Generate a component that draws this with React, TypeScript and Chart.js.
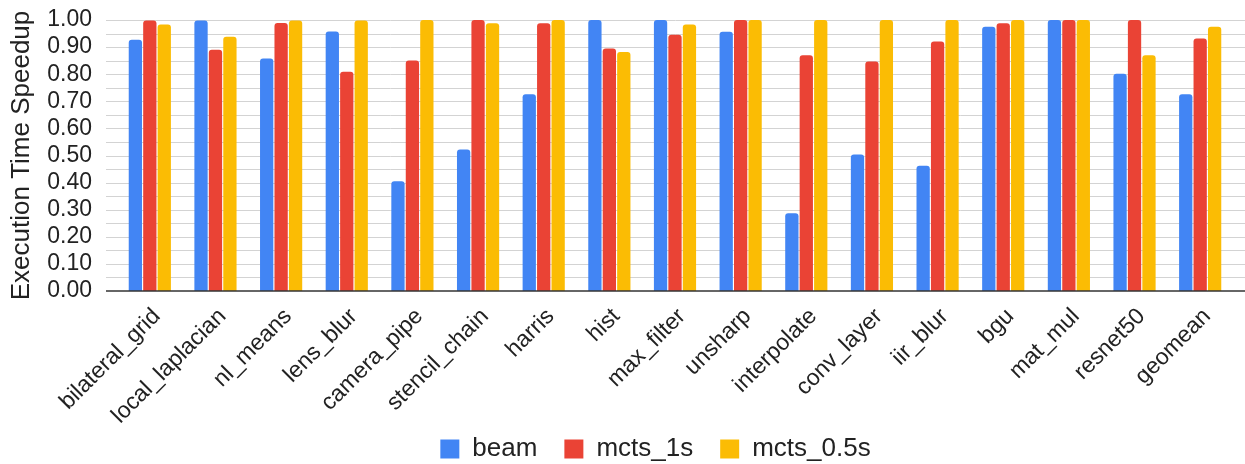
import React, { useEffect, useRef } from "react";
import { Chart, registerables } from "chart.js";
Chart.register(...registerables);

const categories = [
  "bilateral_grid", "local_laplacian", "nl_means", "lens_blur", "camera_pipe",
  "stencil_chain", "harris", "hist", "max_filter", "unsharp", "interpolate",
  "conv_layer", "iir_blur", "bgu", "mat_mul", "resnet50", "geomean",
];
const beam = [0.927, 0.998, 0.858, 0.958, 0.405, 0.522, 0.726, 1.0, 1.0, 0.957, 0.287, 0.504, 0.462, 0.975, 1.0, 0.802, 0.726];
const mcts1s = [0.998, 0.89, 0.989, 0.809, 0.851, 1.0, 0.988, 0.895, 0.946, 1.0, 0.87, 0.847, 0.921, 0.988, 1.0, 1.0, 0.932];
const mcts05s = [0.983, 0.938, 0.998, 0.998, 1.0, 0.988, 1.0, 0.882, 0.983, 1.0, 1.0, 1.0, 1.0, 1.0, 1.0, 0.87, 0.975];
const seriesNames = ["beam", "mcts_1s", "mcts_0.5s"];
const yMin = 0;
const yMax = 1.0;
const yStep = 0.1;
const gridValues = [0.05, 0.1, 0.15, 0.2, 0.25, 0.3, 0.35, 0.4, 0.45, 0.5, 0.55, 0.6, 0.65, 0.7, 0.75, 0.8, 0.85, 0.9, 0.95, 1.0];
const yTitle = "Execution Time Speedup";

const COLORS = ["#4285F4", "#EA4335", "#FBBC04"];
const FONT = "'Liberation Sans', Arial, sans-serif";
const GRID_LEFT = 106;
const LEGEND_SHIFT_X = 39;
const LEGEND_ITEM_CENTER_Y = 449;
const XLABEL_EXTRA = 40;

const gridPlugin = {
  id: "fullGrid",
  beforeDatasetsDraw(chart: any) {
    const ys = chart.scales.y;
    const ctx = chart.ctx;
    ctx.save();
    ctx.strokeStyle = "#d3d3d3";
    ctx.lineWidth = 1;
    for (const v of gridValues) {
      const py = Math.round(ys.getPixelForValue(v)) + 0.5;
      ctx.beginPath();
      ctx.moveTo(GRID_LEFT, py);
      ctx.lineTo(chart.width, py);
      ctx.stroke();
    }
    ctx.restore();
  },
  afterDatasetsDraw(chart: any) {
    const ys = chart.scales.y;
    const ctx = chart.ctx;
    ctx.save();
    ctx.strokeStyle = "#333333";
    ctx.lineWidth = 1.5;
    const py = ys.getPixelForValue(0);
    ctx.beginPath();
    ctx.moveTo(GRID_LEFT, py);
    ctx.lineTo(chart.width, py);
    ctx.stroke();
    ctx.restore();
  },
  afterLayout(chart: any) {
    const xs = chart.scales.x;
    if (xs) xs.bottom += XLABEL_EXTRA;
    const lg = chart.legend;
    if (lg) {
      lg.left += LEGEND_SHIFT_X;
      lg.right += LEGEND_SHIFT_X;
      const pad = lg.options.labels.padding;
      const fs = lg.options.labels.font.size;
      const dy = LEGEND_ITEM_CENTER_Y - (lg.top + pad + fs / 2);
      lg.top += dy;
      lg.bottom += dy;
    }
  },
};

export default function App() {
  const ref = useRef<HTMLCanvasElement>(null);
  useEffect(() => {
    if (!ref.current) return;
    const data = [beam, mcts1s, mcts05s];
    const chart = new Chart(ref.current, {
      type: "bar",
      data: {
        labels: categories,
        datasets: seriesNames.map((name, i) => ({
          label: name,
          data: data[i],
          backgroundColor: COLORS[i],
          borderWidth: 0,
          borderRadius: { topLeft: 3, topRight: 3, bottomLeft: 0, bottomRight: 0 },
          borderSkipped: false,
          barPercentage: 0.92,
          categoryPercentage: 0.66,
        })),
      },
      options: {
        responsive: false,
        animation: false,
        layout: { padding: { top: 20, bottom: 0, left: 0, right: 12 } },
        plugins: {
          tooltip: { enabled: false },
          legend: {
            position: "bottom",
            labels: {
              boxWidth: 19,
              boxHeight: 19,
              padding: 27,
              color: "#222",
              font: { family: FONT, size: 26 },
            },
          },
        },
        scales: {
          x: {
            grid: { display: false },
            border: { display: false },
            ticks: {
              color: "#222",
              font: { family: FONT, size: 23 },
              maxRotation: 45,
              minRotation: 45,
              autoSkip: false,
              padding: 4,
              labelOffset: 7,
            },
            afterFit: (s: any) => { s.height = 110; s.paddingLeft = 0; s.paddingRight = 0; },
          },
          y: {
            min: yMin,
            max: yMax,
            grid: { display: false, drawTicks: false },
            border: { display: false },
            ticks: {
              stepSize: yStep,
              autoSkip: false,
              color: "#222",
              font: { family: FONT, size: 23 },
              padding: 25,
              callback: (v: any) => Number(v).toFixed(2),
            },
            title: {
              display: true,
              text: yTitle,
              color: "#222",
              font: { family: FONT, size: 26 },
              padding: { top: 6, bottom: 0 },
            },
            afterFit: (s: any) => { s.width = 117; s.paddingTop = 0; s.paddingBottom = 0; },
          },
        },
      },
      plugins: [gridPlugin],
    });
    return () => chart.destroy();
  }, []);
  return (
    <div style={{ position: "absolute", left: 0, top: 0, width: 1245, height: 464, background: "#fff" }}>
      <canvas ref={ref} width={1245} height={464} />
    </div>
  );
}
